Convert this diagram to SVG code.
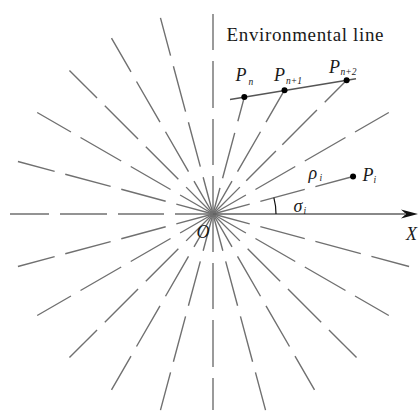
<svg xmlns="http://www.w3.org/2000/svg" width="420" height="414" viewBox="0 0 420 414">
<style>
.ray{stroke:#707070;stroke-width:1.4;fill:none;stroke-dasharray:38 11 46 11 47 11 39}
.t{font-family:"Liberation Serif","Times New Roman",serif;fill:#1a1a1a}
.it{font-style:italic;font-size:18px}
.sub{font-style:italic;font-size:9.5px}
.dot{fill:#000}
</style>
<rect width="420" height="414" fill="#fff"/>
<g id="connectors">
<g id="rays">
<line class="ray" x1="213" y1="214" x2="388.8" y2="112.5"/>
<line class="ray" x1="213" y1="214" x2="213" y2="14"/>
<line class="ray" x1="213" y1="214" x2="160.46" y2="17.92"/>
<line class="ray" x1="213" y1="214" x2="111.5" y2="38.2"/>
<line class="ray" x1="213" y1="214" x2="69.46" y2="70.46"/>
<line class="ray" x1="213" y1="214" x2="37.2" y2="112.5"/>
<line class="ray" x1="213" y1="214" x2="17.92" y2="161.46"/>
<line class="ray" x1="213" y1="214" x2="10" y2="214"/>
<line class="ray" x1="213" y1="214" x2="17.92" y2="266.54"/>
<line class="ray" x1="213" y1="214" x2="37.2" y2="315.5"/>
<line class="ray" x1="213" y1="214" x2="69.46" y2="357.54"/>
<line class="ray" x1="213" y1="214" x2="111.5" y2="389.8"/>
<line class="ray" x1="213" y1="214" x2="160.46" y2="410.08"/>
<line class="ray" x1="213" y1="214" x2="213" y2="410"/>
<line class="ray" x1="213" y1="214" x2="265.54" y2="410.08"/>
<line class="ray" x1="213" y1="214" x2="314.5" y2="389.8"/>
<line class="ray" x1="213" y1="214" x2="356.54" y2="357.54"/>
<line class="ray" x1="213" y1="214" x2="388.8" y2="315.5"/>
<line class="ray" x1="213" y1="214" x2="409.08" y2="266.54"/>
<line class="ray" x1="213" y1="214" x2="353.06" y2="176.47"/>
<line class="ray" x1="213" y1="214" x2="284.5" y2="90.16"/>
<line class="ray" style="stroke-dasharray:38 9 42 9 49 11 40" x1="213" y1="214" x2="346.64" y2="80.36"/>
<line class="ray" style="stroke-dasharray:27 10 47 12 40" x1="213" y1="214" x2="244.32" y2="97.12"/>
</g>
<g id="x-axis">
<line x1="213" y1="214" x2="405" y2="214" stroke="#606060" stroke-width="1.5"/>
<path d="M418,214 L401,209.5 L406,214 L401,218.5 Z" fill="#111"/>
</g>
<line id="environmental-line" x1="230" y1="99.47" x2="356" y2="78.83" stroke="#555" stroke-width="1.6"/>
<path id="angle-arc" d="M276,214 A63,63 0 0 0 273.85,197.7" fill="none" stroke="#111" stroke-width="1.2"/>
</g>
<g id="label-env"><text class="t" x="226.5" y="41" font-size="19" textLength="157" lengthAdjust="spacing">Environmental line</text></g>
<g id="node-O"><text class="t it" x="196.5" y="238">O</text></g>
<g id="node-X"><text class="t it" x="406" y="240">X</text></g>
<g id="node-Pn"><circle class="dot" cx="244.32" cy="97.12" r="3"/><text class="t it" x="235.5" y="81">P</text><text class="t sub" x="248.5" y="84.5">n</text></g>
<g id="node-Pn1"><circle class="dot" cx="284.5" cy="90.16" r="3"/><text class="t it" x="274" y="81">P</text><text class="t sub" x="286" y="83.5">n+1</text></g>
<g id="node-Pn2"><circle class="dot" cx="346.64" cy="80.36" r="3"/><text class="t it" x="329" y="73">P</text><text class="t sub" x="340.5" y="75">n+2</text></g>
<g id="node-Pi"><circle class="dot" cx="353.06" cy="176.47" r="3"/><text class="t it" x="362.5" y="181">P</text><text class="t sub" x="373.5" y="182.5">i</text></g>
<g id="label-rho"><text class="t it" x="308.5" y="178.5">ρ</text><text class="t sub" x="319.5" y="181">i</text></g>
<g id="label-sigma"><text class="t it" x="293.5" y="211.5">σ</text><text class="t sub" x="303.5" y="213.5">i</text></g>
</svg>
